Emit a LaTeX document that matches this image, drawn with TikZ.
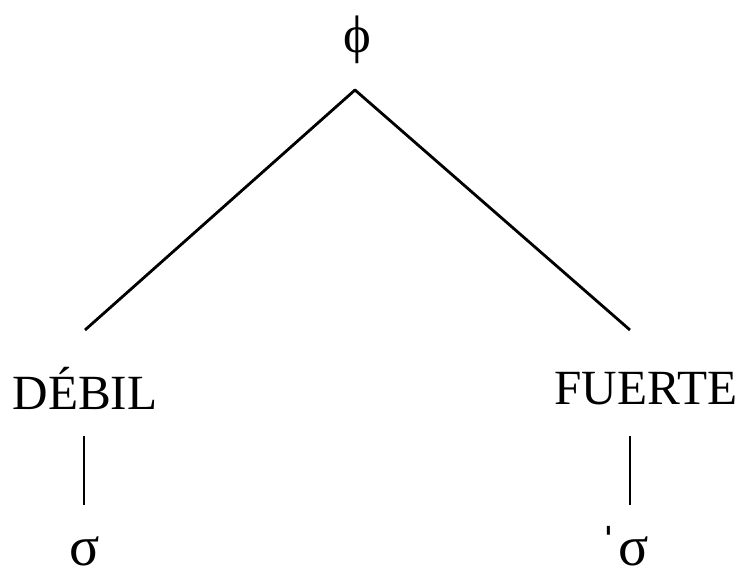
\documentclass[tikz,border=0pt]{standalone}
\usepackage{fontspec}
\setmainfont{Liberation Serif}
\usetikzlibrary{positioning}
\tikzset{
  sym/.style={inner sep=0pt, anchor=base, font=\fontsize{30}{32}\selectfont},
  syl/.style={inner sep=0pt, anchor=base, font=\fontsize{32}{34}\selectfont},
  lab/.style={inner sep=0pt, anchor=base, font=\fontsize{28}{30}\selectfont},
  branch/.style={draw=black, line width=1.6pt},
  every picture/.append style={line join=round}
}
\begin{document}
\begin{tikzpicture}[x=0.02cm, y=-0.02cm]
  \useasboundingbox (0,0) rectangle (745,577);
  \node[sym] (phi) at (357,53) {ϕ};
  \node[lab] (debil) at (85,410) {DÉBIL};
  \node[lab] (fuerte) at (646,405) {FUERTE};
  \node[syl] (sigL) at (85,566) {σ};
  \node[syl] (sigR) at (624,566) {ˈσ};
  \coordinate (apex) at (355,90);
  \coordinate (lEnd) at (85,330);
  \coordinate (rEnd) at (630,330);
  \coordinate (lTop) at (84,436);
  \coordinate (lBot) at (84,505);
  \coordinate (rTop) at (630,436);
  \coordinate (rBot) at (630,505);
  \draw[branch] (lEnd) -- (apex) -- (rEnd);
  \draw[branch] (lTop) -- (lBot);
  \draw[branch] (rTop) -- (rBot);
\end{tikzpicture}
\end{document}
